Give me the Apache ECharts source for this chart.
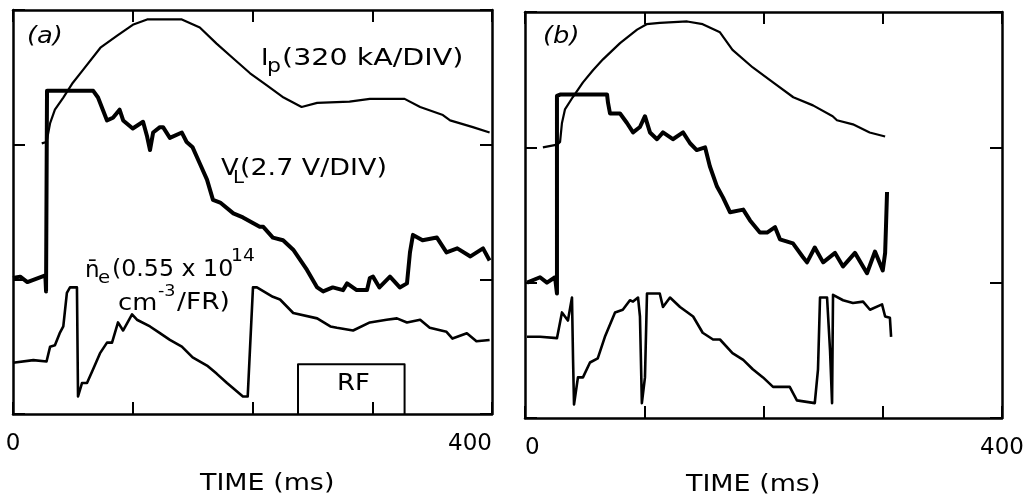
<!DOCTYPE html>
<html>
<head>
<meta charset="utf-8">
<script src="https://cdn.jsdelivr.net/npm/echarts@6/dist/echarts.min.js"></script>
<style>html,body{margin:0;padding:0;background:#fff}#c{width:1030px;height:502px}</style>
</head>
<body>
<div id="c"></div>
<script>
// ---------- DATA (time in ms, signal in divisions) ----------
const xLabelValues = [0, 400];
const xAxisTitle = 'TIME (ms)';

// Panel (a)
const ipA = [[24,2.01],[28,2.02],[31,2.16],[35,2.26],[42,2.35],[50,2.46],[58,2.55],[73,2.72],[87,2.81],[100,2.89],[112,2.93],[129,2.93],[141,2.93],[156,2.87],[170,2.75],[184,2.64],[198,2.53],[212,2.44],[226,2.35],[241,2.28],[254,2.31],[281,2.32],[298,2.34],[327,2.34],[340,2.28],[359,2.22],[365,2.18],[384,2.13],[398,2.09]];
const vlA = [[0,1.01],[6,1.02],[12,0.98],[27,1.03],[27.6,0.91],[28.4,2.40],[67,2.40],[71,2.35],[75,2.26],[78.5,2.18],[83.5,2.20],[89,2.26],[92,2.18],[100,2.12],[108.6,2.17],[112,2.06],[114.4,1.96],[117,2.09],[122.7,2.13],[125.3,2.13],[131,2.05],[141,2.09],[145,2.02],[150,1.98],[156,1.86],[162,1.74],[167,1.59],[173,1.57],[184,1.49],[192,1.46],[206,1.39],[209,1.39],[217,1.31],[225.5,1.29],[234,1.22],[245.5,1.07],[254,0.94],[259,0.91],[267,0.94],[275.6,0.92],[279,0.97],[287,0.92],[295.6,0.92],[298,1.01],[300.6,1.02],[306,0.94],[314.8,1.02],[323,0.94],[329,0.97],[331.5,1.20],[334,1.33],[342,1.29],[354,1.31],[362,1.20],[371,1.23],[382,1.17],[392.5,1.23],[398,1.14]];
const neA = [[0,0.38],[17,0.40],[28,0.39],[31,0.50],[35,0.51],[39,0.60],[42,0.65],[45,0.90],[47.6,0.94],[53.4,0.94],[54.3,0.13],[57.6,0.23],[61.8,0.23],[66.8,0.33],[72.6,0.45],[78.5,0.53],[82.7,0.53],[87.7,0.68],[91.9,0.62],[99.4,0.74],[103.5,0.70],[114.4,0.65],[122.7,0.60],[131,0.55],[141,0.50],[150,0.42],[162,0.36],[170,0.30],[178.7,0.23],[192,0.13],[196,0.13],[198,0.50],[200.4,0.94],[203.7,0.94],[217,0.87],[223,0.85],[234,0.75],[254,0.71],[265,0.65],[270.5,0.64],[284,0.62],[298,0.68],[312,0.70],[320.6,0.71],[329,0.68],[340,0.70],[348,0.64],[362,0.61],[367,0.56],[379,0.60],[387,0.54],[398,0.55]];
const rfA = [[238,0],[238,0.37],[327,0.37],[327,0]];

// Panel (b)
const ipB = [[15,2.00],[27,2.02],[29.4,2.04],[31,2.18],[33.5,2.28],[40,2.37],[48.6,2.48],[57,2.57],[65.4,2.65],[79.7,2.77],[94,2.87],[102,2.91],[113,2.92],[136,2.93],[149,2.91],[163.5,2.85],[174,2.72],[191,2.59],[208,2.48],[225,2.37],[241.5,2.31],[258,2.23],[261.6,2.20],[275,2.17],[289,2.11],[302,2.08]];
const vlB = [[1.7,1.00],[12.6,1.04],[18.4,1.00],[25.2,1.04],[26.8,0.92],[26.8,2.38],[29.4,2.39],[68.8,2.39],[69.6,2.33],[71.3,2.25],[79.7,2.25],[85.5,2.18],[90.6,2.11],[96.4,2.15],[100.6,2.23],[104.8,2.11],[110.7,2.06],[115.7,2.11],[124,2.06],[132.5,2.11],[138.4,2.03],[144,1.98],[151,2.00],[155,1.86],[161,1.71],[166,1.63],[172,1.52],[183,1.54],[188.7,1.46],[197,1.37],[203,1.37],[209.7,1.41],[213.8,1.32],[224.7,1.29],[233,1.19],[236.5,1.15],[243,1.26],[250,1.15],[260,1.22],[266.7,1.12],[276.7,1.22],[286.8,1.07],[293.5,1.23],[300,1.09],[302,1.22],[302.7,1.41],[303.6,1.67]];
const neB = [[1.7,0.60],[12.6,0.60],[26.8,0.59],[31,0.78],[33.5,0.75],[36,0.72],[39.4,0.89],[40.3,0.43],[41.1,0.10],[44.4,0.30],[48.6,0.30],[54.5,0.41],[61,0.44],[67,0.60],[75.5,0.78],[82,0.80],[88,0.87],[90.6,0.86],[94.8,0.89],[96.4,0.75],[98,0.11],[100.6,0.30],[102.3,0.92],[113,0.92],[115.7,0.82],[121.6,0.89],[130,0.82],[141,0.75],[149,0.63],[157.7,0.58],[163.5,0.58],[174,0.48],[183,0.43],[191,0.36],[199.6,0.30],[208,0.23],[222,0.23],[228,0.13],[243,0.11],[245.7,0.36],[247.4,0.89],[253.3,0.89],[255.8,0.50],[257.5,0.11],[258.3,0.91],[266.7,0.87],[275,0.85],[283.5,0.86],[289.3,0.80],[299.4,0.84],[302,0.75],[306,0.74],[307,0.60]];

// ---------- CHART ----------
const FONT = '"DejaVu Sans", sans-serif';
const BLACK = '#000';
const TICK = {show: true, inside: true, length: 12, lineStyle: {color: BLACK, width: 2}};
const FRAME = {show: true, onZero: false, lineStyle: {color: BLACK, width: 2.5}};

function xAxesFor(gi, minAlign, maxAlign) {
  return [
    {type: 'value', gridIndex: gi, min: 0, max: 400, interval: 100, position: 'bottom',
     axisLine: FRAME, splitLine: {show: false}, axisTick: TICK,
     axisLabel: {show: true, margin: 19, fontSize: 23, color: BLACK, fontFamily: FONT,
       showMinLabel: true, showMaxLabel: true, alignMinLabel: minAlign, alignMaxLabel: maxAlign,
       formatter: v => xLabelValues.includes(v) ? String(v) : ''}},
    {type: 'value', gridIndex: gi, min: 0, max: 400, interval: 100, position: 'top',
     axisLine: FRAME, splitLine: {show: false}, axisTick: TICK, axisLabel: {show: false}}
  ];
}
function yAxesFor(gi) {
  return [
    {type: 'value', gridIndex: gi, min: 0, max: 3, interval: 1, position: 'left',
     axisLine: FRAME, splitLine: {show: false}, axisTick: TICK, axisLabel: {show: false}},
    {type: 'value', gridIndex: gi, min: 0, max: 3, interval: 1, position: 'right',
     axisLine: FRAME, splitLine: {show: false}, axisTick: TICK, axisLabel: {show: false}}
  ];
}
function line(data, xi, yi, w) {
  return {type: 'line', data, xAxisIndex: xi, yAxisIndex: yi, showSymbol: false, symbol: 'none',
    lineStyle: {color: BLACK, width: w, join: 'round'}, animation: false, silent: true, z: 3};
}
function txt(x, y, text, size, sx, styleExtra) {
  return {type: 'text', x, y, scaleX: sx, scaleY: 1, silent: true, z: 10,
    style: Object.assign({text, fontSize: size, fontFamily: FONT, fill: BLACK,
      align: 'left', verticalAlign: 'middle'}, styleExtra || {})};
}

const option = {
  backgroundColor: '#fff',
  animation: false,
  grid: [
    {left: 13, top: 10, width: 479, height: 404, show: false, containLabel: false},
    {left: 525, top: 12, width: 477, height: 406, show: false, containLabel: false}
  ],
  xAxis: [...xAxesFor(0, 'center', 'right'), ...xAxesFor(1, 'left', 'center')],
  yAxis: [...yAxesFor(0), ...yAxesFor(1)],
  series: [
    line(ipA, 0, 0, 2.2), line(vlA, 0, 0, 4), line(neA, 0, 0, 2.6), line(rfA, 0, 0, 2),
    line(ipB, 2, 2, 2.2), line(vlB, 2, 2, 4), line(neB, 2, 2, 2.6)
  ],
  graphic: [
    txt(27, 37, '(a)', 23, 1.12, {fontStyle: 'italic'}),
    txt(543, 37, '(b)', 23, 1.12, {fontStyle: 'italic'}),
    txt(261, 59, 'I', 23, 1.1),
    txt(267, 67, 'p', 20, 1.1),
    txt(282, 59, '(320 kA/DIV)', 23, 1.24),
    txt(221, 169, 'V', 23, 1.12),
    txt(233, 178, 'L', 18, 1.1),
    txt(240, 169, '(2.7 V/DIV)', 23, 1.17),
    txt(85, 271, 'n\u0304', 23, 1.0),
    txt(98, 278, 'e', 18, 1.1),
    txt(112, 270, '(0.55 x 10', 23, 1.03),
    txt(231, 257, '14', 17, 1.1),
    txt(118, 304, 'cm', 23, 1.12),
    txt(158, 292, '-3', 16, 1.1),
    txt(177, 303, '/FR)', 23, 1.15),
    txt(337, 384, 'RF', 23, 1.12),
    txt(200, 484, xAxisTitle, 23, 1.17),
    txt(686, 485, xAxisTitle, 23, 1.17)
  ]
};

const chart = echarts.init(document.getElementById('c'), null, {renderer: 'canvas'});
chart.setOption(option);
</script>
</body>
</html>
